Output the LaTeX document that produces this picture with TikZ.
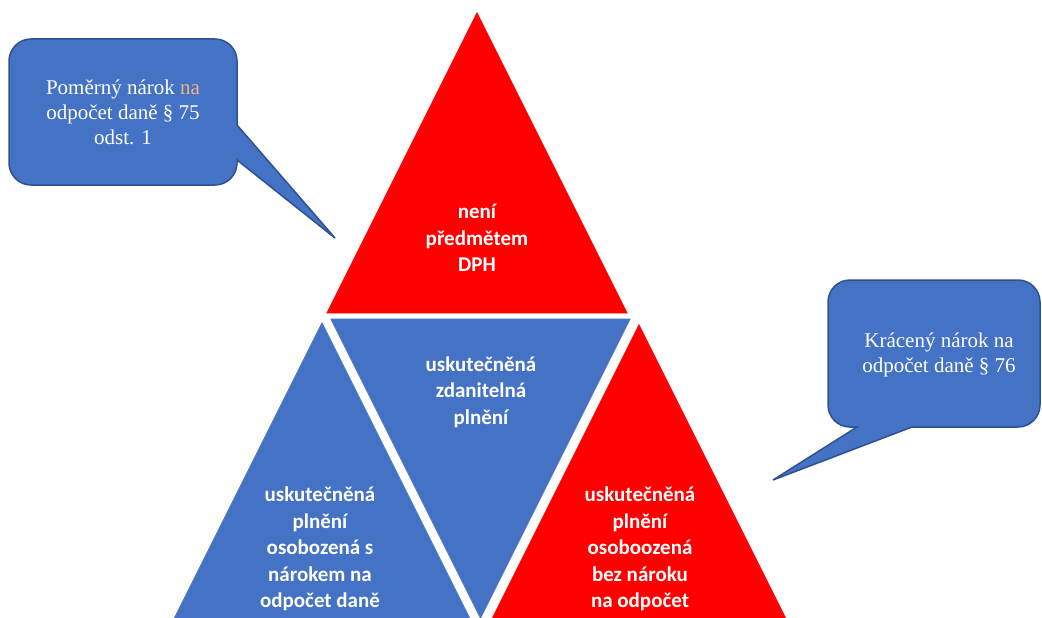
\documentclass[tikz,border=0pt]{standalone}
\usepackage{fontspec}
\setmainfont{Liberation Serif}
\newfontfamily\carlito{Carlito}
\definecolor{pyrred}{HTML}{FF0000}
\definecolor{pyrblue}{HTML}{4472C4}
\definecolor{bubbleline}{HTML}{2F528F}
\definecolor{naorange}{HTML}{F4B183}
\tikzset{
  piece/.style={draw=white, line width=5pt},
  tritext/.style={text=white, align=center, font=\carlito\bfseries\fontsize{21}{26.5}\selectfont},
  bubble/.style={fill=pyrblue, draw=bubbleline, line width=1.5pt},
  bubbletext/.style={text=white, align=center, font=\fontsize{21}{25}\selectfont},
}
\begin{document}
\begin{tikzpicture}[x=1pt, y=-1pt]
    \useasboundingbox (0,0) rectangle (1042,618);
    \clip (0,0) rectangle (1042,618);
    \coordinate (t1) at (477,6);
    \coordinate (t2) at (322,316);
    \coordinate (t3) at (632,316);
    \coordinate (m1) at (326,316);
    \coordinate (m2) at (635,316);
    \coordinate (m3) at (480.5,625);
    \coordinate (l1) at (322,316);
    \coordinate (l2) at (167,626);
    \coordinate (l3) at (477,626);
    \coordinate (r1) at (639,318);
    \coordinate (r2) at (484,628);
    \coordinate (r3) at (794,628);
    \fill[piece, fill=pyrred] (t1) -- (t2) -- (t3) -- cycle;
    \fill[piece, fill=pyrblue] (m1) -- (m2) -- (m3) -- cycle;
    \fill[piece, fill=pyrblue] (l1) -- (l2) -- (l3) -- cycle;
    \fill[piece, fill=pyrred] (r1) -- (r2) -- (r3) -- cycle;
    \node[tritext] (neni) at (477,238) {není\\předmětem\\DPH};
    \node[tritext] (zdanitelna) at (481,392) {uskutečněná\\zdanitelná\\plnění};
    \node[tritext] (snarokem) at (320,549) {uskutečněná\\plnění\\osobozená s\\nárokem na\\odpočet daně};
    \node[tritext] (beznaroku) at (640,549) {uskutečněná\\plnění\\osoboozená\\bez nároku\\na odpočet};
    \draw[bubble] (123,39) [rounded corners=22] -- (237,39) [sharp corners] -- (237,125) -- (335,238) -- (237,160) [rounded corners=22] -- (237,185) -- (9,185) -- (9,39) -- cycle;
    \draw[bubble] (934,280) [rounded corners=22] -- (1040,280) -- (1040,427) [sharp corners] -- (912,427) -- (773,480) -- (857,427) [rounded corners=22] -- (828,427) -- (828,280) -- cycle;
    \node[bubbletext] (pomerny) at (123,112) {Poměrný nárok {\color{naorange}na}\\odpočet daně § 75\\odst. 1};
    \node[bubbletext] (kraceny) at (939,355) {Krácený nárok na\\odpočet daně § 76};
\end{tikzpicture}
\end{document}
